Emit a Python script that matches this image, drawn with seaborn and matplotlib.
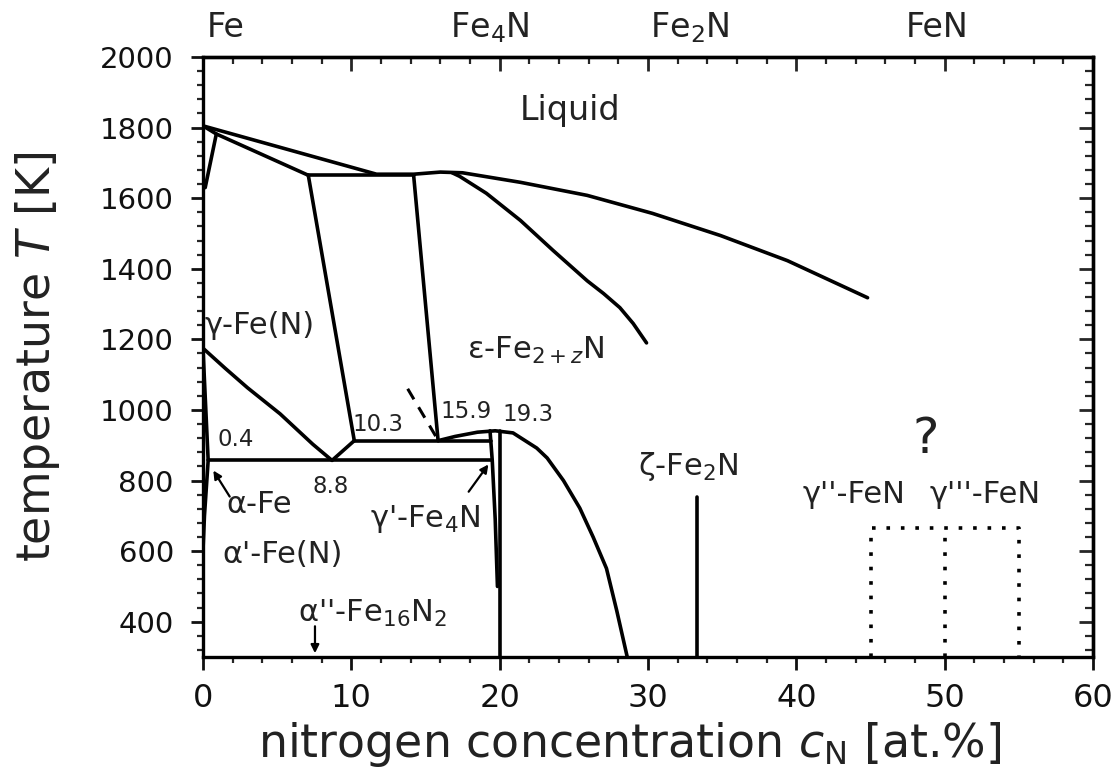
import numpy as np
import pandas as pd
import matplotlib
matplotlib.use("Agg")
import matplotlib.pyplot as plt
import seaborn as sns
from matplotlib.ticker import MultipleLocator

# ---- phase boundaries (N in at.%, T in K) ----
liquidus_N = [0, 11.7, 14.2, 16.0, 17.5, 21.4, 25.9, 30.3, 34.9, 39.4, 44.8]
liquidus_T = [1805, 1668, 1668, 1674, 1672, 1645, 1608, 1557, 1494, 1423, 1318]

solidus_N = [0, 0.9, 7.1]
solidus_T = [1805, 1782, 1665]

delta_gamma_N = [0.9, 0.15]
delta_gamma_T = [1782, 1630]

perit_N = [7.1, 14.2]
perit_T = [1665, 1665]

gamma_right_N = [7.1, 10.2]
gamma_right_T = [1665, 913]

eps_left_N = [14.2, 15.85]
eps_left_T = [1665, 913]

eps_branch_N = [16.8, 17.3, 19.1, 21.4, 23.6, 25.9, 27.0, 28.1, 29.0, 29.9]
eps_branch_T = [1672, 1662, 1614, 1537, 1452, 1366, 1330, 1290, 1245, 1190]

gamma_left_N = [0, 1.5, 3.0, 5.2, 7.4, 8.7, 10.2]
gamma_left_T = [1175, 1118, 1063, 989, 903, 857, 913]

alpha_N = [0, 0.35, 0.1, 0]
alpha_T = [1175, 857, 700, 600]

eutectoid_N = [0.35, 19.45]
eutectoid_T = [857, 857]

upper_N = [10.2, 19.4]
upper_T = [913, 913]

eps_gp_N = [15.85, 17.0, 18.5, 19.7, 20.9, 22.5, 23.2, 24.3, 25.4, 26.3, 27.2, 27.9, 28.6]
eps_gp_T = [913, 925, 937, 941, 935, 892, 864, 800, 722, 640, 551, 430, 300]

gp_left_N = [19.35, 19.5, 19.7, 19.85]
gp_left_T = [941, 857, 690, 500]

gp_right_N = [20.0, 20.0]
gp_right_T = [941, 300]

zeta_N = [33.3, 33.3]
zeta_T = [300, 752]

box_N = [45, 45, 55, 55]
box_T = [300, 665, 665, 300]
box_mid_N = [50, 50]
box_mid_T = [300, 665]

pointer_N = [13.8, 15.7]
pointer_T = [1060, 925]

top_labels = ["Fe", "Fe$_4$N", "Fe$_2$N", "FeN"]
top_label_N = [1.5, 19.35, 32.8, 49.5]

sns.set_theme(style="ticks")
plt.rcParams["font.family"] = ["DejaVu Sans"]
plt.rcParams["mathtext.fontset"] = "dejavusans"

fig = plt.figure(figsize=(11.14, 7.78), dpi=100)
ax = fig.add_axes([0.1822, 0.1555, 0.799, 0.7712])

solid = [
    (liquidus_N, liquidus_T), (solidus_N, solidus_T), (delta_gamma_N, delta_gamma_T),
    (perit_N, perit_T), (gamma_right_N, gamma_right_T), (eps_left_N, eps_left_T),
    (eps_branch_N, eps_branch_T), (gamma_left_N, gamma_left_T), (alpha_N, alpha_T),
    (eutectoid_N, eutectoid_T), (upper_N, upper_T), (eps_gp_N, eps_gp_T),
    (gp_left_N, gp_left_T), (gp_right_N, gp_right_T), (zeta_N, zeta_T),
]
for xs, ys in solid:
    sns.lineplot(x=xs, y=ys, sort=False, estimator=None, color="black",
                 lw=2.6, ax=ax)

for xs, ys in [(box_N, box_T), (box_mid_N, box_mid_T)]:
    sns.lineplot(x=xs, y=ys, sort=False, estimator=None, color="black",
                 lw=2.6, linestyle=(0, (1, 3)), ax=ax)

sns.lineplot(x=pointer_N, y=pointer_T, sort=False, estimator=None, color="black",
             lw=2.2, linestyle=(0, (4, 3)), ax=ax)

# arrows
arrow = dict(arrowstyle="-|>", lw=1.6, color="black", mutation_scale=12)
ax.annotate("", xy=(0.6, 835), xytext=(1.9, 748), arrowprops=arrow)
ax.annotate("", xy=(19.35, 852), xytext=(17.8, 762), arrowprops=arrow)
ax.annotate("", xy=(7.55, 303), xytext=(7.55, 395), arrowprops=arrow)

# phase labels
tc = "#222222"
lab = 22
num = 16.5
ax.text(24.75, 1849, "Liquid", fontsize=24, ha="center", va="center", color=tc)
ax.text(0.1, 1239, "γ-Fe(N)", fontsize=lab, ha="left", va="center", color=tc)
ax.text(17.8, 1168, "ε-Fe$_{2+z}$N", fontsize=lab, ha="left", va="center", color=tc)
ax.text(10.1, 960, "10.3", fontsize=num, ha="left", va="center", color=tc)
ax.text(16.0, 997, "15.9", fontsize=num, ha="left", va="center", color=tc)
ax.text(20.2, 986, "19.3", fontsize=num, ha="left", va="center", color=tc)
ax.text(0.95, 915, "0.4", fontsize=num, ha="left", va="center", color=tc)
ax.text(7.35, 784, "8.8", fontsize=num, ha="left", va="center", color=tc)
ax.text(1.6, 733, "α-Fe", fontsize=lab, ha="left", va="center", color=tc)
ax.text(11.25, 690, "γ'-Fe$_4$N", fontsize=lab, ha="left", va="center", color=tc)
ax.text(1.28, 591, "α'-Fe(N)", fontsize=lab, ha="left", va="center", color=tc)
ax.text(6.4, 423, "α''-Fe$_{16}$N$_2$", fontsize=lab, ha="left", va="center", color=tc)
ax.text(29.3, 841, "ζ-Fe$_2$N", fontsize=lab, ha="left", va="center", color=tc)
ax.text(48.75, 918, "?", fontsize=36, ha="center", va="center", color=tc)
ax.text(40.4, 761, "γ''-FeN", fontsize=lab, ha="left", va="center", color=tc)
ax.text(49.0, 761, "γ'''-FeN", fontsize=lab, ha="left", va="center", color=tc)

for txt, xn in zip(top_labels, top_label_N):
    ax.text(xn, 1.033, txt, transform=ax.get_xaxis_transform(), fontsize=24,
            ha="center", va="baseline", color=tc)

ax.set_xlim(0, 60)
ax.set_ylim(300, 2000)
ax.xaxis.set_major_locator(MultipleLocator(10))
ax.xaxis.set_minor_locator(MultipleLocator(2))
ax.yaxis.set_major_locator(MultipleLocator(200))
ax.yaxis.set_minor_locator(MultipleLocator(40))
ax.set_yticks(np.arange(400, 2001, 200))

ax.tick_params(which="major", direction="out", length=9, width=2, labelsize=21,
               pad=12, colors="#111111")
ax.tick_params(axis="x", which="major", labelsize=23, pad=10)
ax.tick_params(which="minor", direction="out", length=4.5, width=1.6)

# top and right spines carry inward ticks without labels
secx = ax.secondary_xaxis("top")
secx.xaxis.set_major_locator(MultipleLocator(10))
secx.xaxis.set_minor_locator(MultipleLocator(2))
secx.tick_params(which="major", direction="in", length=10, width=2, labeltop=False)
secx.tick_params(which="minor", direction="in", length=5, width=1.6)
secy = ax.secondary_yaxis("right")
secy.yaxis.set_major_locator(MultipleLocator(200))
secy.yaxis.set_minor_locator(MultipleLocator(40))
secy.tick_params(which="major", direction="in", length=10, width=2, labelright=False)
secy.tick_params(which="minor", direction="in", length=6, width=1.6)

for s in list(ax.spines.values()) + [secx.spines["top"], secy.spines["right"]]:
    s.set_linewidth(2.4)
    s.set_color("black")

ax.set_xlabel("nitrogen concentration $c_{\\mathrm{N}}$ [at.%]", fontsize=33, color=tc)
ax.set_ylabel("temperature $T$ [K]", fontsize=33, color=tc)
ax.xaxis.set_label_coords(0.479, -0.105)
ax.xaxis.label.set_va("top")
ax.yaxis.set_label_coords(-0.158, 0.5)

fig.savefig("out.png", dpi=100, facecolor="white")
